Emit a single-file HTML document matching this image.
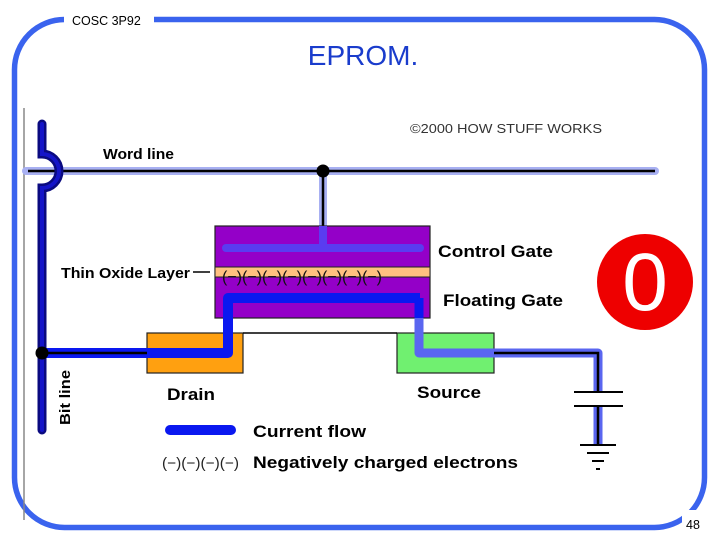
<!DOCTYPE html>
<html><head><meta charset="utf-8"><style>
body{margin:0;background:#fff}
svg text{font-family:"Liberation Sans",sans-serif}
</style></head><body>
<svg width="720" height="540" viewBox="0 0 720 540" xmlns="http://www.w3.org/2000/svg">
<rect x="14.5" y="19.5" width="690" height="508" rx="50" fill="none" stroke="#3a63ee" stroke-width="5.5"/>
<rect x="64" y="10" width="90" height="20" fill="#fff"/>
<text x="72" y="25" font-size="12.5" fill="#000">COSC 3P92</text>
<rect x="682" y="510" width="26" height="24" fill="#fff"/>
<text x="686" y="529" font-size="12.5" fill="#000">48</text>
<text x="363" y="65" font-size="28" fill="#1a3ccc" text-anchor="middle">EPROM.</text>
<line x1="24" y1="108" x2="24" y2="520" stroke="#888" stroke-width="1.5"/>
<text x="410" y="133" font-size="13" fill="#333" textLength="192" lengthAdjust="spacingAndGlyphs">©2000 HOW STUFF WORKS</text>
<!-- word line -->
<line x1="26" y1="171" x2="655" y2="171" stroke="#a8b0f2" stroke-width="8" stroke-linecap="round"/>
<line x1="28" y1="171" x2="655" y2="171" stroke="#000" stroke-width="2.5"/>
<line x1="323" y1="171" x2="323" y2="226" stroke="#a8b0f2" stroke-width="8"/>
<line x1="323" y1="171" x2="323" y2="226" stroke="#000" stroke-width="2.5"/>
<circle cx="323" cy="171" r="6.5" fill="#000"/>
<text x="103" y="159" font-size="14.5" font-weight="bold" textLength="71" lengthAdjust="spacingAndGlyphs">Word line</text>
<!-- bit line -->
<path d="M42 124 V154 A17 17 0 0 1 42 188 V430" fill="none" stroke="#0a0a80" stroke-width="9" stroke-linecap="round"/>
<path d="M42 124 V154 A17 17 0 0 1 42 188 V430" fill="none" stroke="#1414c8" stroke-width="4" stroke-linecap="round"/>
<text transform="translate(70,425) rotate(-90)" font-size="14.5" font-weight="bold" textLength="55" lengthAdjust="spacingAndGlyphs">Bit line</text>
<!-- drain/source -->
<rect x="147" y="333" width="96" height="40" fill="#ffa010" stroke="#222" stroke-width="1.2"/>
<rect x="397" y="333" width="97" height="40" fill="#70f070" stroke="#222" stroke-width="1.2"/>
<line x1="243" y1="333" x2="397" y2="333" stroke="#000" stroke-width="1.5"/>
<!-- gate -->
<rect x="215" y="226" width="215" height="92" fill="#9400c8" stroke="#222" stroke-width="1.2"/>
<rect x="215" y="267" width="215" height="10" fill="#ffc080" stroke="#222" stroke-width="1"/>
<line x1="323" y1="226" x2="323" y2="248" stroke="#5a3cf0" stroke-width="8"/>
<line x1="226" y1="248" x2="420" y2="248" stroke="#5a3cf0" stroke-width="8" stroke-linecap="round"/>
<text x="222" y="282" font-size="16" fill="#111" textLength="160" lengthAdjust="spacingAndGlyphs">(−)(−)(−)(−)(−)(−)(−)(−)</text>
<!-- current right -->
<path d="M419 318 V353 H598 V445" fill="none" stroke="#5a66f0" stroke-width="9" stroke-linejoin="round"/>
<path d="M494 353 H598 V445" fill="none" stroke="#000" stroke-width="2.5"/>
<!-- current left -->
<path d="M420 298 H228 V353 H42" fill="none" stroke="#0a18f0" stroke-width="10" stroke-linejoin="round"/>
<path d="M419 298 V318" fill="none" stroke="#0a18f0" stroke-width="9"/>
<line x1="42" y1="353" x2="147" y2="353" stroke="#000" stroke-width="2.5"/>
<circle cx="42" cy="353" r="6.5" fill="#000"/>
<!-- capacitor & ground -->
<line x1="574" y1="392" x2="623" y2="392" stroke="#000" stroke-width="2"/>
<line x1="574" y1="406" x2="623" y2="406" stroke="#000" stroke-width="2"/>
<rect x="593" y="393" width="11" height="12" fill="#fff"/>
<line x1="580" y1="445" x2="616" y2="445" stroke="#000" stroke-width="2"/>
<line x1="587" y1="453" x2="609" y2="453" stroke="#000" stroke-width="2"/>
<line x1="592" y1="461" x2="604" y2="461" stroke="#000" stroke-width="2"/>
<line x1="596" y1="469" x2="600" y2="469" stroke="#000" stroke-width="2"/>
<!-- labels -->
<text x="61" y="278" font-size="14.5" font-weight="bold" textLength="129" lengthAdjust="spacingAndGlyphs">Thin Oxide Layer</text>
<line x1="193" y1="272" x2="210" y2="272" stroke="#000" stroke-width="1.5"/>
<text x="438" y="257" font-size="17" font-weight="bold" textLength="115" lengthAdjust="spacingAndGlyphs">Control Gate</text>
<text x="443" y="306" font-size="17" font-weight="bold" textLength="120" lengthAdjust="spacingAndGlyphs">Floating Gate</text>
<text x="167" y="400" font-size="17" font-weight="bold" textLength="48" lengthAdjust="spacingAndGlyphs">Drain</text>
<text x="417" y="398" font-size="17" font-weight="bold" textLength="64" lengthAdjust="spacingAndGlyphs">Source</text>
<line x1="170" y1="430" x2="231" y2="430" stroke="#0a18f0" stroke-width="10" stroke-linecap="round"/>
<text x="253" y="437" font-size="17" font-weight="bold" textLength="113" lengthAdjust="spacingAndGlyphs">Current flow</text>
<text x="162" y="468" font-size="15" fill="#222" textLength="77" lengthAdjust="spacingAndGlyphs">(−)(−)(−)(−)</text>
<text x="253" y="468" font-size="17" font-weight="bold" textLength="265" lengthAdjust="spacingAndGlyphs">Negatively charged electrons</text>
<!-- red circle -->
<circle cx="645" cy="282" r="48" fill="#ee0000"/>
<text x="645" y="310" font-size="82" fill="#fff" text-anchor="middle">0</text>
</svg>
</body></html>
